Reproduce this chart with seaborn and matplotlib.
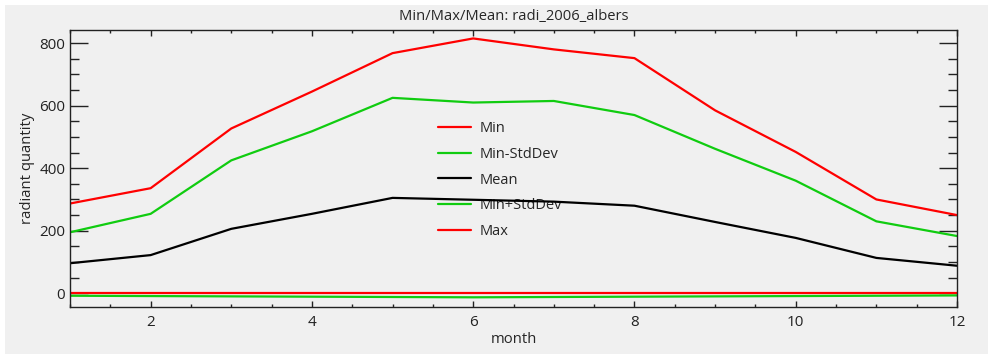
import numpy as np
import pandas as pd
import matplotlib
matplotlib.use("Agg")
import matplotlib.pyplot as plt
import seaborn as sns
from matplotlib.ticker import MultipleLocator
from matplotlib.patches import Rectangle

# Valeurs
mois = [1, 2, 3, 4, 5, 6, 7, 8, 9, 10, 11, 12]
v_min = [0, 0, 0, 0, 0, 0, 0, 0, 0, 0, 0, 0]
v_min_moins_std = [-8, -9, -10, -11, -12, -13, -12, -11, -10, -9, -8, -7]
v_moyenne = [96, 122, 206, 254, 305, 299, 293, 280, 228, 177, 113, 88]
v_min_plus_std = [195, 254, 425, 518, 625, 610, 615, 570, 462, 360, 230, 183]
v_max = [287, 336, 527, 645, 768, 815, 780, 752, 585, 452, 300, 250]

series = ["Min", "Min-StdDev", "Mean", "Min+StdDev", "Max"]
couleurs = ["#ff0000", "#10cc10", "#000000", "#10cc10", "#ff0000"]

df = pd.DataFrame({
    "month": mois * 5,
    "valeur": v_min + v_min_moins_std + v_moyenne + v_min_plus_std + v_max,
    "serie": np.repeat(series, len(mois)),
})

sns.set_style("ticks")
plt.rcParams["font.family"] = ["Open Sans", "DejaVu Sans"]
fond = "#f0f0f0"

fig = plt.figure(figsize=(9.88, 3.54), dpi=100, facecolor=fond)
# marge blanche en haut et à gauche
fig.patches.append(Rectangle((0, 0), 5 / 988, 1, transform=fig.transFigure,
                             facecolor="white", edgecolor="none", zorder=0))
fig.patches.append(Rectangle((0, 1 - 5 / 354), 1, 5 / 354, transform=fig.transFigure,
                             facecolor="white", edgecolor="none", zorder=0))

ax = fig.add_axes([70 / 988, 1 - 307 / 354, 887 / 988, 277 / 354])
ax.set_facecolor(fond)

sns.lineplot(data=df, x="month", y="valeur", hue="serie", hue_order=series,
             palette=couleurs, linewidth=1.6, ax=ax, legend=False)

ax.set_xlim(1, 12)
ax.set_ylim(-44, 842)
ax.xaxis.set_major_locator(MultipleLocator(2))
ax.xaxis.set_minor_locator(MultipleLocator(0.5))
ax.yaxis.set_major_locator(MultipleLocator(200))
ax.yaxis.set_minor_locator(MultipleLocator(50))
ax.xaxis.set_major_formatter(plt.FuncFormatter(lambda v, p: "" if v < 2 else f"{v:.0f}"))

ax.tick_params(axis="y", which="major", direction="in", length=13, width=1,
               left=True, right=True, labelsize=11, colors="#222222")
ax.tick_params(axis="y", which="minor", direction="in", length=6.5, width=1,
               left=True, right=True, colors="#222222")
ax.tick_params(axis="x", which="major", direction="in", length=4, width=1,
               top=True, bottom=True, labelsize=11, colors="#222222", pad=6)
ax.tick_params(axis="x", which="minor", direction="in", length=2, width=1,
               top=True, bottom=True, colors="#222222")
for s in ax.spines.values():
    s.set_visible(True)
    s.set_color("#222222")
    s.set_linewidth(1)

ax.set_xlabel("month", fontsize=10.7, labelpad=1)
ax.set_ylabel("radiant quantity", fontsize=10.7, labelpad=3)
ax.set_title("Min/Max/Mean: radi_2006_albers", fontsize=10.6, pad=7)

# légende sans cadre au centre
poignees = [plt.Line2D([], [], color=c, linewidth=1.6) for c in couleurs]
leg = ax.legend(poignees, series, loc="upper left", bbox_to_anchor=(0.40, 0.72),
                frameon=False, fontsize=10.5, handlelength=2.3, handletextpad=0.55,
                labelspacing=0.75)
leg.set_zorder(1)

fig.savefig("out.png", dpi=100, facecolor=fond)
